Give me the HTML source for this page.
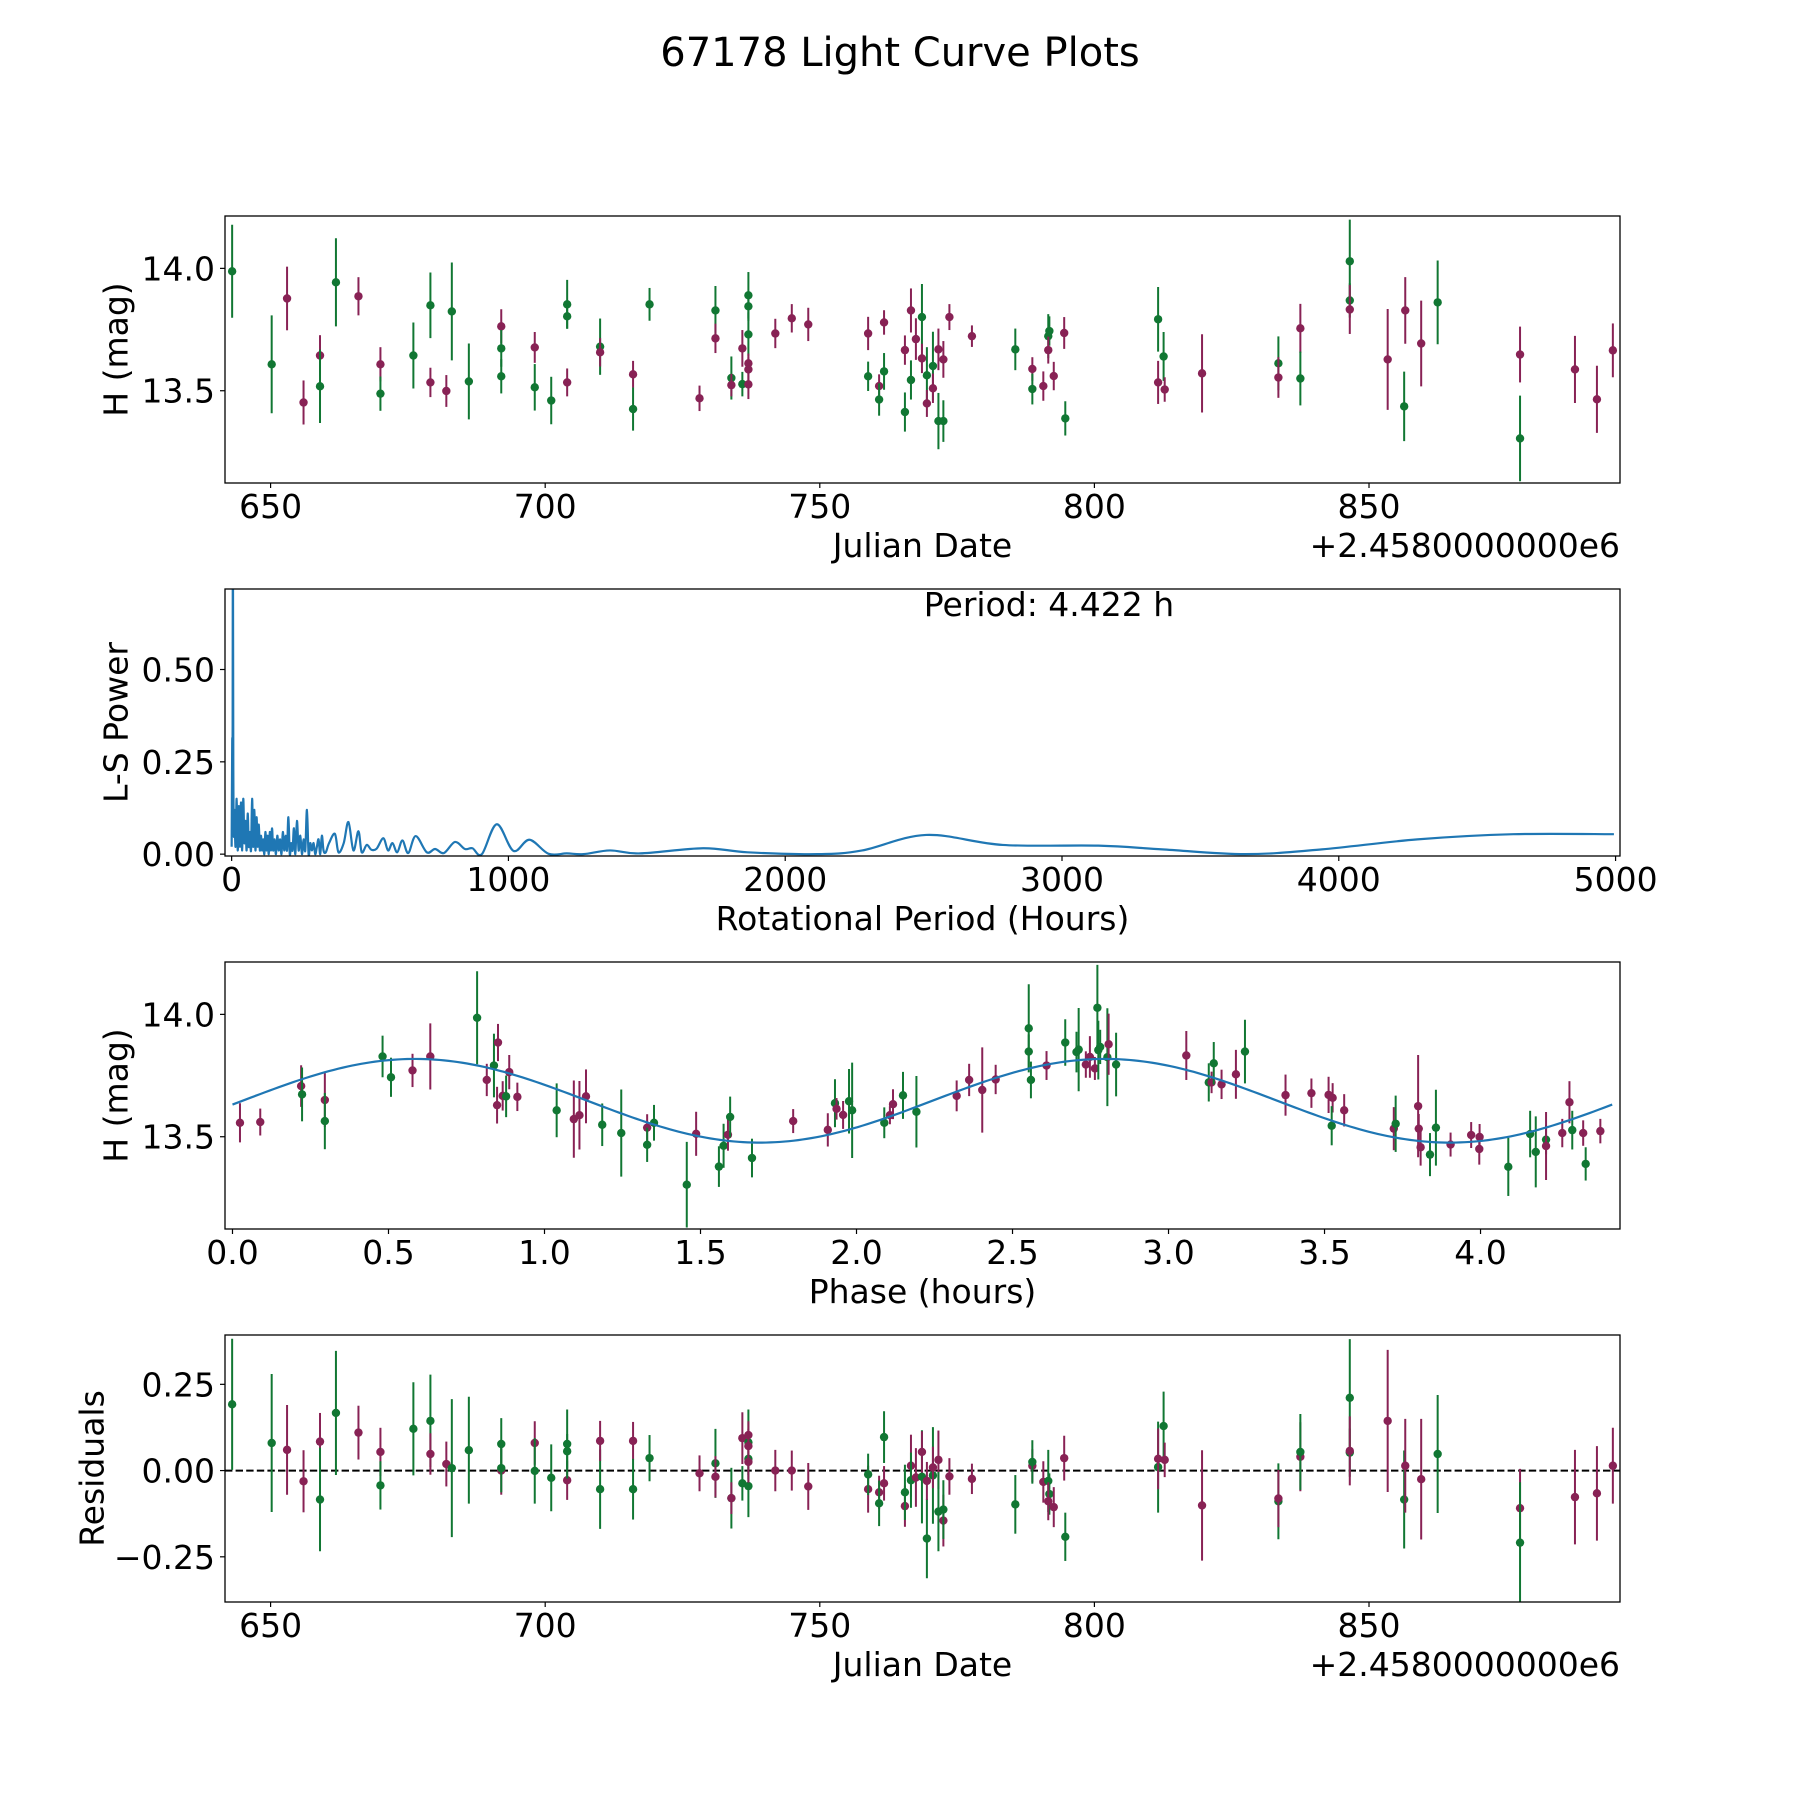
<!DOCTYPE html>
<html><head><meta charset="utf-8"><title>67178 Light Curve Plots</title>
<style>
html,body{margin:0;padding:0;background:#fff;}
svg{display:block;font-family:"DejaVu Sans","Liberation Sans",sans-serif;}
</style></head>
<body>
<svg id="fig" xmlns="http://www.w3.org/2000/svg" width="1800" height="1800" viewBox="0 0 1800 1800">
<rect x="0" y="0" width="1800" height="1800" fill="#fff"/>
<text x="900" y="66" font-size="40" text-anchor="middle">67178 Light Curve Plots</text>
</svg>
<script>
// ---------- Panel 1 / 4 data (Julian date offset by 2458000) ----------
const jd = [643.0,650.2,653.0,656.0,659.0,659.0,661.9,666.0,670.0,670.0,
676.0,679.1,679.1,682.0,683.0,686.1,692.0,692.0,692.0,698.1,
698.1,701.1,704.0,704.0,704.0,710.0,710.0,716.0,716.0,719.0,
728.1,731.0,731.0,733.9,733.9,735.9,735.9,737.0,737.0,737.0,
737.0,737.0,737.0,741.9,744.9,747.9,758.8,758.8,760.8,760.8,
761.7,761.7,765.5,765.5,766.6,766.6,767.5,768.6,768.6,769.5,
769.5,770.6,770.6,771.6,771.6,772.5,772.5,773.6,777.7,785.6,
788.7,788.7,790.7,791.6,791.8,791.6,792.6,794.5,794.7,811.6,
811.6,812.6,812.8,819.6,833.5,833.5,837.5,837.5,846.5,846.5,
846.5,853.4,856.4,856.6,859.5,862.5,877.5,877.5,887.5,891.5,
894.4];
const mag = [13.988,13.608,13.877,13.452,13.644,13.518,13.943,13.886,13.608,13.488,
13.644,13.849,13.534,13.499,13.824,13.538,13.763,13.673,13.559,13.677,
13.514,13.46,13.534,13.853,13.804,13.68,13.657,13.567,13.425,13.853,
13.469,13.828,13.714,13.552,13.523,13.673,13.527,13.89,13.845,13.73,
13.612,13.587,13.526,13.734,13.796,13.771,13.734,13.559,13.519,13.464,
13.779,13.579,13.666,13.413,13.828,13.544,13.711,13.801,13.632,13.563,
13.448,13.601,13.51,13.669,13.376,13.628,13.376,13.801,13.723,13.669,
13.589,13.507,13.519,13.723,13.744,13.666,13.56,13.736,13.387,13.792,
13.534,13.64,13.505,13.571,13.612,13.554,13.755,13.55,14.029,13.869,
13.832,13.628,13.436,13.828,13.693,13.861,13.648,13.305,13.587,13.465,
13.665];
const magErr = [0.19,0.20,0.13,0.09,0.083,0.15,0.18,0.078,0.07,0.07,
0.135,0.134,0.06,0.065,0.20,0.155,0.07,0.075,0.07,0.063,
0.095,0.097,0.057,0.10,0.05,0.115,0.058,0.055,0.088,0.067,
0.052,0.10,0.06,0.088,0.046,0.075,0.05,0.095,0.06,0.09,
0.04,0.05,0.06,0.06,0.058,0.068,0.068,0.06,0.048,0.066,
0.05,0.075,0.06,0.08,0.09,0.08,0.085,0.135,0.06,0.115,
0.055,0.14,0.06,0.085,0.115,0.075,0.085,0.053,0.044,0.085,
0.048,0.063,0.06,0.09,0.06,0.055,0.058,0.065,0.07,0.132,
0.088,0.10,0.05,0.16,0.11,0.083,0.10,0.11,0.17,0.07,
0.10,0.206,0.142,0.136,0.175,0.171,0.114,0.175,0.137,0.137,
0.11];
const band = ["g","g","m","m","m","g","g","m","m","g",
"g","g","m","m","g","g","m","g","g","m",
"g","g","m","g","g","g","m","m","g","g",
"m","g","m","g","m","m","g","g","g","g",
"m","m","m","m","m","m","m","g","m","g",
"m","g","m","g","m","g","m","g","m","g",
"m","g","m","m","g","m","g","m","m","g",
"m","g","m","g","g","m","m","m","g","g",
"m","g","m","m","g","m","m","g","g","g",
"m","m","g","m","m","g","m","g","m","m",
"m"];
const resid = [0.192,0.080,0.060,-0.031,0.084,-0.084,0.167,0.110,0.054,-0.043,
0.121,0.144,0.048,0.019,0.007,0.059,0.0,0.077,0.007,0.080,
-0.001,-0.021,-0.028,0.077,0.056,-0.054,0.086,0.086,-0.054,0.036,
-0.008,0.021,-0.018,-0.08,-0.08,0.094,-0.037,0.082,0.034,-0.045,
0.103,0.071,0.025,0.0,0.0,-0.046,-0.054,-0.011,-0.063,-0.095,
-0.037,0.097,-0.103,-0.063,0.014,-0.028,-0.02,-0.018,0.054,-0.197,
-0.03,-0.014,0.009,0.031,-0.119,-0.145,-0.113,-0.017,-0.024,-0.098,
0.014,0.025,-0.033,-0.03,-0.068,-0.089,-0.106,0.036,-0.192,0.01,
0.034,0.129,0.031,-0.101,-0.089,-0.081,0.04,0.054,0.211,0.052,
0.057,0.144,-0.084,0.014,-0.025,0.048,-0.109,-0.209,-0.077,-0.066,
0.014];

// ---------- Panel 3 (phased) data ----------
const phase = [0.024,0.089,0.22,0.223,0.296,0.296,0.481,0.508,0.577,0.634,
0.784,0.815,0.838,0.851,0.848,0.866,0.877,0.887,0.913,1.039,
1.094,1.112,1.133,1.185,1.246,1.329,1.329,1.351,1.456,1.486,
1.559,1.574,1.588,1.595,1.665,1.797,1.908,1.931,1.936,1.957,
1.976,1.986,2.089,2.107,2.117,2.149,2.192,2.321,2.361,2.403,
2.446,2.552,2.552,2.559,2.609,2.669,2.705,2.712,2.735,2.748,
2.764,2.772,2.775,2.781,2.804,2.808,2.832,3.057,3.129,3.138,
3.145,3.17,3.216,3.245,3.375,3.458,3.513,3.526,3.523,3.563,
3.722,3.728,3.8,3.802,3.808,3.838,3.857,3.904,3.97,3.997,
3.996,4.089,4.159,4.177,4.21,4.21,4.262,4.285,4.294,4.329,
4.337,4.384];
const phaseMag = [13.557,13.56,13.707,13.673,13.65,13.564,13.828,13.743,13.771,13.828,
13.986,13.732,13.791,13.885,13.629,13.667,13.665,13.764,13.663,13.608,
13.572,13.588,13.665,13.549,13.515,13.537,13.467,13.557,13.304,13.512,
13.378,13.463,13.508,13.581,13.413,13.564,13.528,13.637,13.614,13.589,
13.645,13.608,13.557,13.588,13.633,13.669,13.602,13.667,13.732,13.691,
13.734,13.943,13.848,13.732,13.791,13.885,13.846,13.856,13.795,13.826,
13.779,14.027,13.854,13.867,13.825,13.878,13.795,13.832,13.722,13.722,
13.8,13.714,13.755,13.848,13.67,13.678,13.671,13.659,13.545,13.608,
13.533,13.553,13.625,13.533,13.457,13.427,13.537,13.468,13.507,13.499,
13.45,13.377,13.511,13.438,13.488,13.462,13.515,13.641,13.527,13.515,
13.389,13.523];
const phaseErr = [0.08,0.055,0.085,0.11,0.11,0.115,0.085,0.08,0.068,0.135,
0.19,0.066,0.13,0.076,0.075,0.06,0.085,0.07,0.058,0.11,
0.158,0.14,0.11,0.087,0.178,0.055,0.07,0.073,0.175,0.09,
0.083,0.09,0.065,0.083,0.079,0.049,0.068,0.098,0.044,0.057,
0.132,0.195,0.063,0.037,0.061,0.096,0.146,0.063,0.066,0.174,
0.06,0.18,0.07,0.075,0.059,0.095,0.083,0.17,0.054,0.085,
0.047,0.175,0.12,0.07,0.2,0.125,0.13,0.10,0.078,0.044,
0.087,0.06,0.1,0.13,0.084,0.06,0.074,0.06,0.08,0.066,
0.088,0.115,0.209,0.06,0.075,0.088,0.155,0.049,0.053,0.053,
0.064,0.119,0.095,0.145,0.06,0.139,0.058,0.086,0.079,0.052,
0.068,0.05];
const phaseBand = ["m","m","m","g","m","g","g","g","m","m",
"g","m","g","m","m","m","g","m","m","g",
"m","m","m","g","g","m","g","g","g","m",
"g","g","m","g","g","m","m","g","m","m",
"g","g","g","m","m","g","g","m","m","m",
"m","g","g","g","m","g","g","g","m","m",
"m","g","g","g","g","m","g","m","g","m",
"g","m","m","g","m","m","m","m","g","m",
"m","g","m","m","m","g","g","m","m","m",
"m","g","g","g","g","m","m","m","g","m",
"g","m"];
// sinusoidal fit (printed model parameters)
const fitParams = [13.647, 0.171, 2.211, 0.585]; // mean, amplitude, half-period (h), peak phase

// ---------- Panel 2 (Lomb-Scargle) data ----------
const lsPeriod = [0,2,3.6,4.4,6,8,10,14,18,22,26,30,34,38,42,46,50,54,58,62,66,70,74,78,82,86,90,94,98,102,106,110,114,118,122,126,130,134,138,142,146,150,155,160,165,170,175,180,185,190,195,200,205,210,215,220,225,230,236,242,248,254,260,266,272,278,284,290,296,302,308,314,320,326,332,340,352,373,386,405,422,440,458,470,488,505,524,548,565,581,598,617,638,665,705,735,767,807,843,870,904,958,1018,1076,1145,1211,1271,1367,1476,1703,1864,2118,2278,2509,2786,3131,3362,3662,3939,4284,4631,4994];
const lsPower = [0.02,0.3,0.35,0.95,0.25,0.05,0.12,0.02,0.15,0.01,0.13,0.02,0.14,0.01,0.15,0.03,0.09,0.01,0.11,0.02,0.06,0.01,0.15,0.02,0.12,0.01,0.1,0.02,0.08,0.01,0.05,0.01,0.04,0.0,0.06,0.01,0.05,0.0,0.06,0.01,0.07,0.01,0.04,0.0,0.05,0.01,0.04,0.0,0.06,0.01,0.05,0.01,0.1,0.0,0.03,0.01,0.07,0.0,0.09,0.01,0.05,0.0,0.04,0.01,0.12,0.0,0.03,0.01,0.03,0.0,0.02,0.04,0.0,0.05,0.01,0.005,0.03,0.055,0.005,0.03,0.087,0.01,0.062,0.005,0.025,0.012,0.015,0.043,0.01,0.03,0.005,0.037,0.003,0.049,0.005,0.014,0.003,0.033,0.014,0.016,0.0,0.081,0.009,0.039,0.001,0.002,0.0,0.01,0.002,0.016,0.005,0.0,0.01,0.052,0.025,0.023,0.013,0.0,0.013,0.04,0.054,0.054];

const xTicks1 = [650,700,750,800,850];
const yTicks1 = [13.5,14.0];
const xTicks2 = [0,1000,2000,3000,4000,5000];
const yTicks2 = [0,0.25,0.5];
const xTicks3 = [0,0.5,1,1.5,2,2.5,3,3.5,4];
const yTicks4 = [-0.25,0,0.25];

const NS = "http://www.w3.org/2000/svg";
const svg = document.getElementById("fig");
const COL = {g:"#117733", m:"#882255"};
function mk(tag, attrs, parent){
  const e = document.createElementNS(NS, tag);
  for (const k in attrs) e.setAttribute(k, attrs[k]);
  (parent||svg).appendChild(e);
  return e;
}
function lin(d0,d1,r0,r1){ return v => r0 + (v-d0)/(d1-d0)*(r1-r0); }

const L = 225, R = 1620;
const panels = [
  {top:216, bot:483, xd:[641.7,895.7], yd:[13.123,14.214]},
  {top:589, bot:856, xd:[-24,5016], yd:[-0.005,0.718]},
  {top:962, bot:1229, xd:[-0.024,4.447], yd:[13.123,14.214]},
  {top:1335, bot:1602, xd:[641.7,895.7], yd:[-0.381,0.393]}
];
panels.forEach((p,i)=>{
  p.x = lin(p.xd[0],p.xd[1],L,R);
  p.y = lin(p.yd[0],p.yd[1],p.bot,p.top);
  const cp = mk("clipPath",{id:"clip"+i});
  mk("rect",{x:L,y:p.top,width:R-L,height:p.bot-p.top},cp);
  p.g = mk("g",{"clip-path":"url(#clip"+i+")"});
  
  
});

function fmt(v,d){ const s = Math.abs(v).toFixed(d); return (v<0?"\u2212":"")+s; }
function axes(p, idx, xt, xd, yt, yd, xlabel, ylabel, ylabX, offset){
  const fr = mk("rect",{x:L,y:p.top,width:R-L,height:p.bot-p.top,fill:"none",stroke:"#000","stroke-width":1.3});
  
  
  xt.forEach(v=>{
    const X = p.x(v);
    const t = mk("line",{x1:X,x2:X,y1:p.bot,y2:p.bot+5,stroke:"#000","stroke-width":1.2});
    
    
    const tx = mk("text",{x:X,y:p.bot+35,"font-size":33,"text-anchor":"middle"});
    tx.textContent = fmt(v,xd);
    
    
  });
  yt.forEach(v=>{
    const Y = p.y(v);
    const t = mk("line",{x1:L-5,x2:L,y1:Y,y2:Y,stroke:"#000","stroke-width":1.2});
    
    
    const tx = mk("text",{x:L-10,y:Y+12,"font-size":33,"text-anchor":"end"});
    tx.textContent = fmt(v,yd);
    
    
  });
  const xl = mk("text",{x:(L+R)/2,y:p.bot+74,"font-size":33,"text-anchor":"middle"});
  xl.textContent = xlabel;
  
  
  const cy = (p.top+p.bot)/2;
  const yl = mk("text",{x:ylabX,y:cy,"font-size":33,"text-anchor":"middle","dominant-baseline":"central",transform:"rotate(-90 "+ylabX+" "+cy+")"});
  yl.textContent = ylabel;
  
  
  if (offset){
    const o = mk("text",{x:R,y:p.bot+74,"font-size":33,"text-anchor":"end"});
    o.textContent = offset;
    
    
  }
}

function errbar(p, xv, yv, ev, c, name){
  const X = p.x(xv);
  const l = mk("line",{x1:X,x2:X,y1:p.y(yv-ev),y2:p.y(yv+ev),stroke:COL[c],"stroke-width":2}, p.g);
  
  
  const d = mk("circle",{cx:X,cy:p.y(yv),r:4.2,fill:COL[c]}, p.g);
  
  
}

// Panel 1
const p1 = panels[0];
for (let i=0;i<jd.length;i++) errbar(p1, jd[i], mag[i], magErr[i], band[i], 'magnitude');
axes(p1,1,xTicks1,0,yTicks1,1,"Julian Date","H (mag)",116,"+2.4580000000e6");

// Panel 2
const p2 = panels[1];
(function(){
  const pts = lsPeriod.map((v,i)=>[p2.x(v), p2.y(lsPower[i])]);
  let d = "M"+pts[0][0].toFixed(2)+","+pts[0][1].toFixed(2);
  for (let i=0;i<pts.length-1;i++){
    const p0 = pts[Math.max(0,i-1)], a = pts[i], b = pts[i+1], p3 = pts[Math.min(pts.length-1,i+2)];
    const c1x = a[0]+(b[0]-p0[0])/6, c1y = a[1]+(b[1]-p0[1])/6;
    const c2x = b[0]-(p3[0]-a[0])/6, c2y = b[1]-(p3[1]-a[1])/6;
    d += " C"+c1x.toFixed(2)+","+c1y.toFixed(2)+" "+c2x.toFixed(2)+","+c2y.toFixed(2)+" "+b[0].toFixed(2)+","+b[1].toFixed(2);
  }
  const path = mk("path",{d:d,fill:"none",stroke:"#1f77b4","stroke-width":2.2,"stroke-linejoin":"round"}, p2.g);
  
  
})();
axes(p2,2,xTicks2,0,yTicks2,2,"Rotational Period (Hours)","L-S Power",116,null);
const ann = mk("text",{x:1049,y:616,"font-size":33,"text-anchor":"middle"});
ann.textContent = "Period: 4.422 h";



// Panel 3
const p3 = panels[2];
for (let i=0;i<phase.length;i++) errbar(p3, phase[i], phaseMag[i], phaseErr[i], phaseBand[i], 'phased-magnitude');
(function(){
  let d = "";
  for (let k=0;k<=300;k++){
    const ph = 4.422*k/300;
    const v = fitParams[0] + fitParams[1]*Math.cos(2*Math.PI*(ph-fitParams[3])/fitParams[2]);
    d += (k?" L":"M")+p3.x(ph).toFixed(2)+","+p3.y(v).toFixed(2);
  }
  const fit = mk("path",{d:d,fill:"none",stroke:"#1f77b4","stroke-width":2.2}, p3.g);
  
  
})();
axes(p3,3,xTicks3,1,yTicks1,1,"Phase (hours)","H (mag)",116,null);

// Panel 4
const p4 = panels[3];
const zl = mk("line",{x1:L,x2:R,y1:p4.y(0),y2:p4.y(0),stroke:"#000","stroke-width":2,"stroke-dasharray":"7.4 3.2"}, p4.g);


for (let i=0;i<jd.length;i++) errbar(p4, jd[i], resid[i], magErr[i], band[i], 'residual');
axes(p4,4,xTicks1,0,yTicks4,2,"Julian Date","Residuals",92,"+2.4580000000e6");
</script>
</body></html>
